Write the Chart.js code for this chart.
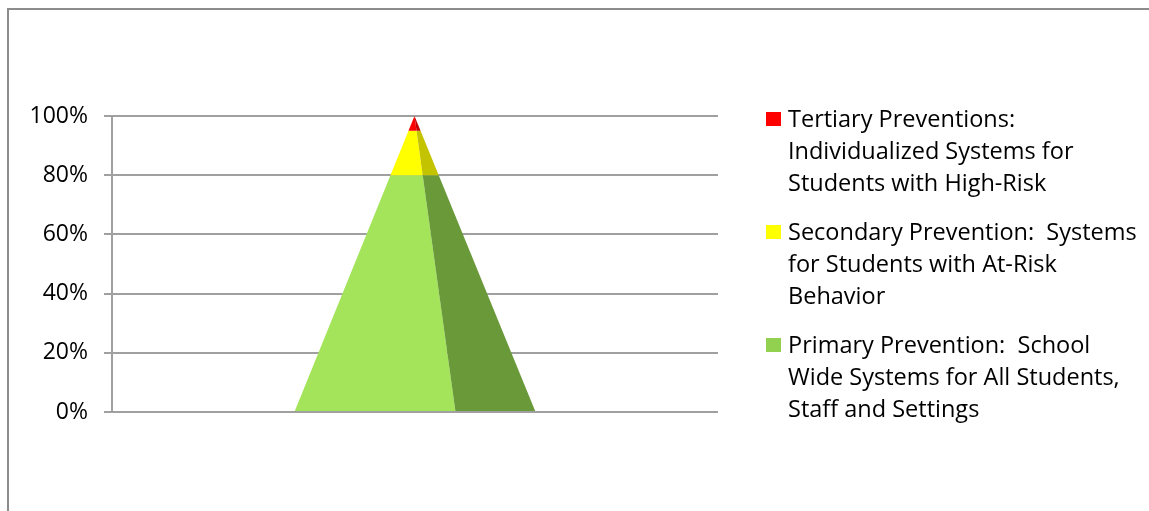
<!DOCTYPE html>
<html>
<head>
<meta charset="utf-8">
<script src="https://cdn.jsdelivr.net/npm/chart.js@4.4.1/dist/chart.umd.min.js"></script>
<style>
  html, body { margin: 0; padding: 0; background: #fff; overflow: hidden; width: 1149px; height: 511px; }
  #wrap { position: relative; width: 1149px; height: 511px; }
  #frame { position: absolute; left: 7px; top: 8px; width: 3000px; height: 3000px; border-left: 2px solid #8c8c8c; border-top: 2px solid #8c8c8c; box-sizing: border-box; }
  canvas { position: absolute; left: 0; top: 0; }
  #legend { position: absolute; left: 766px; top: 102px; width: 383px; font-family: "Open Sans", Lato, sans-serif; font-size: 23.5px; color: #000; }
  .item { position: relative; padding-left: 22px; line-height: 32px; margin-bottom: 17px; white-space: pre-wrap; width: 360px; }
  .sw { position: absolute; left: 0; top: 10px; width: 15px; height: 14px; }
</style>
</head>
<body>
<div id="wrap">
  <div id="frame"></div>
  <canvas id="c" width="1149" height="511"></canvas>
  <div id="legend"></div>
</div>
<script>
// ---- data ----
const categories = ["Prevention"];
const primaryValues = [80];
const secondaryValues = [15];
const tertiaryValues = [5];
const seriesLabels = [
  "Primary Prevention:  School Wide Systems for All Students, Staff and Settings",
  "Secondary Prevention:  Systems for Students with At-Risk Behavior",
  "Tertiary Preventions: Individualized Systems for Students with High-Risk"
];
const tickValues = [0, 20, 40, 60, 80, 100];

// ---- styles ----
const frontColors = ["#a3e45b", "#ffff00", "#ff0000"];
const sideColors = ["#6a993a", "#c4c300", "#c00000"];
const legendColors = ["#92d050", "#ffff00", "#ff0000"];

const pyramidPlugin = {
  id: "pyramid",
  afterDatasetsDraw(chart) {
    const ctx = chart.ctx;
    const yScale = chart.scales.y;
    const n = chart.data.datasets.length;
    let total = 0;
    chart.data.datasets.forEach(ds => total += ds.data[0]);
    const apexY = yScale.getPixelForValue(total);
    const baseY = yScale.getPixelForValue(0);
    const bar0 = chart.getDatasetMeta(0).data[0];
    const cx = bar0.x;
    const w = bar0.width;
    const left = cx - w / 2, right = cx + w / 2;
    const split = left + w * 0.668;
    const apexX = cx - 0.5;
    const at = (xb, y) => apexX + (xb - apexX) * (y - apexY) / (baseY - apexY);
    ctx.save();
    for (let i = 0; i < n; i++) {
      const el = chart.getDatasetMeta(i).data[0];
      const yTop = Math.min(el.y, el.base);
      const yBot = Math.max(el.y, el.base);
      ctx.beginPath();
      ctx.moveTo(at(left, yBot), yBot);
      ctx.lineTo(at(split, yBot), yBot);
      ctx.lineTo(at(split, yTop), yTop);
      ctx.lineTo(at(left, yTop), yTop);
      ctx.closePath();
      ctx.fillStyle = frontColors[i];
      ctx.fill();
      ctx.beginPath();
      ctx.moveTo(at(split, yBot), yBot);
      ctx.lineTo(at(right, yBot), yBot);
      ctx.lineTo(at(right, yTop), yTop);
      ctx.lineTo(at(split, yTop), yTop);
      ctx.closePath();
      ctx.fillStyle = sideColors[i];
      ctx.fill();
    }
    ctx.restore();
  }
};

const chart = new Chart(document.getElementById("c"), {
  type: "bar",
  data: {
    labels: categories,
    datasets: [
      { label: seriesLabels[0], data: primaryValues, backgroundColor: "rgba(0,0,0,0)" },
      { label: seriesLabels[1], data: secondaryValues, backgroundColor: "rgba(0,0,0,0)" },
      { label: seriesLabels[2], data: tertiaryValues, backgroundColor: "rgba(0,0,0,0)" }
    ]
  },
  options: {
    responsive: false,
    animation: false,
    layout: { padding: { left: 0, right: 431, top: 116, bottom: 99 } },
    datasets: { bar: { categoryPercentage: 1, barPercentage: 0.398 } },
    plugins: { legend: { display: false }, tooltip: { enabled: false } },
    scales: {
      x: { stacked: true, display: false },
      y: {
        stacked: true, min: 0, max: 100,
        afterFit(scale) { scale.width = 112; },
        afterBuildTicks(scale) { scale.ticks = tickValues.map(v => ({ value: v })); },
        ticks: {
          padding: 16, color: "#000",
          font: { family: "'Open Sans', Lato, sans-serif", size: 23 },
          callback: v => v + "%"
        },
        grid: { color: "#a0a0a0", lineWidth: 2, tickLength: 8, drawTicks: true },
        border: { display: true, color: "#a0a0a0", width: 2 }
      }
    }
  },
  plugins: [pyramidPlugin]
});

const legend = document.getElementById("legend");
for (let i = chart.data.datasets.length - 1; i >= 0; i--) {
  const item = document.createElement("div");
  item.className = "item";
  const sw = document.createElement("span");
  sw.className = "sw";
  sw.style.background = legendColors[i];
  item.appendChild(sw);
  item.appendChild(document.createTextNode(chart.data.datasets[i].label));
  legend.appendChild(item);
}
</script>
</body>
</html>
